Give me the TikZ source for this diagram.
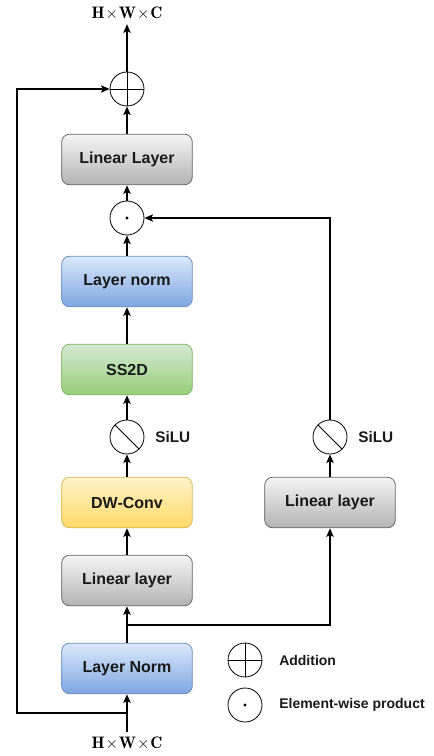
\documentclass[tikz,border=0pt]{standalone}
\usepackage{fontspec}
\setsansfont{Liberation Sans}
\usetikzlibrary{arrows.meta,positioning,calc}

\definecolor{grayTop}{HTML}{F5F5F5}
\definecolor{grayBot}{HTML}{B3B3B3}
\definecolor{grayLine}{HTML}{666666}
\definecolor{blueTop}{HTML}{DAE8FC}
\definecolor{blueBot}{HTML}{7EA6E0}
\definecolor{blueLine}{HTML}{6C8EBF}
\definecolor{greenTop}{HTML}{D5E8D4}
\definecolor{greenBot}{HTML}{97D077}
\definecolor{greenLine}{HTML}{82B366}
\definecolor{yellowTop}{HTML}{FFF2CC}
\definecolor{yellowBot}{HTML}{FFD966}
\definecolor{yellowLine}{HTML}{D6B656}

\newcommand{\hwc}{$\mathbf{H}\mkern1mu{\times}\mkern1mu\mathbf{W}\mkern1mu{\times}\mkern1mu\mathbf{C}$}

\tikzset{
  block/.style={rectangle, rounded corners=6pt, minimum width=98pt, minimum height=38pt,
    line width=0.6pt, text=black!90, font=\sffamily\bfseries\fontsize{12}{14}\selectfont},
  grayblock/.style={block, draw=grayLine, top color=grayTop, bottom color=grayBot},
  blueblock/.style={block, draw=blueLine, top color=blueTop, bottom color=blueBot},
  greenblock/.style={block, draw=greenLine, top color=greenTop, bottom color=greenBot},
  yellowblock/.style={block, draw=yellowLine, top color=yellowTop, bottom color=yellowBot},
  op/.style={circle, draw, line width=0.6pt, minimum size=25.5pt, inner sep=0pt},
  addop/.style={op, path picture={\draw[line width=0.6pt] (path picture bounding box.north) -- (path picture bounding box.south)
      (path picture bounding box.west) -- (path picture bounding box.east);}},
  prodop/.style={op, path picture={\fill (path picture bounding box.center) circle (1.2pt);}},
  siluop/.style={op, path picture={\draw[line width=0.6pt] ($(path picture bounding box.center)+(135:12.75pt)$)
      -- ($(path picture bounding box.center)+(-45:12.75pt)$);}},
  flow/.style={line width=1.3pt, -{Stealth[length=6.5pt,width=5.5pt,inset=1.5pt]}},
  oplabel/.style={font=\sffamily\bfseries\fontsize{11.5}{13}\selectfont, text=black!90, inner sep=0pt},
  legendtext/.style={font=\sffamily\bfseries\fontsize{10.5}{12}\selectfont, text=black!90, inner sep=0pt, anchor=west},
  dims/.style={font=\fontsize{12.5}{14}\selectfont}
}

\begin{document}
\begin{tikzpicture}[x=0.75pt, y=-0.75pt]
    \useasboundingbox (0,0) rectangle (433,756);

    % input / output sizes
    \node[dims] (out) at (127,13) {\hwc};
    \node[dims] (in) at (127,743) {\hwc};

    % main branch
    \node[addop] (plus) at (127,89) {};
    \node[grayblock] (linout) at (127,159.5) {Linear Layer};
    \node[prodop] (prod) at (127,218) {};
    \node[blueblock] (normtop) at (127,281.5) {Layer norm};
    \node[greenblock] (ssd) at (127,369.5) {SS2D};
    \node[siluop] (siluleft) at (127,437) {};
    \node[oplabel, right=8pt of siluleft] (siluleftlbl) {SiLU};
    \node[yellowblock] (dwconv) at (127,502.5) {DW-Conv};
    \node[grayblock] (linleft) at (127,580.5) {Linear layer};
    \node[blueblock] (normin) at (127,668.5) {Layer Norm};

    % gate branch
    \node[grayblock] (linright) at (330,502.5) {Linear layer};
    \node[siluop] (siluright) at (330,437) {};
    \node[oplabel, right=8pt of siluright] (silurightlbl) {SiLU};

    % legend
    \node[addop] (addlegend) at (245,660) {};
    \node[legendtext] (addtext) at (279,660) {Addition};
    \node[prodop] (prodlegend) at (245,705) {};
    \node[legendtext] (prodtext) at (279,705) {Element-wise product};

    % helper points
    \coordinate (split) at (127,625);
    \coordinate (skip) at (127,713);
    \coordinate (skipbot) at (17,713);
    \coordinate (skiptop) at (17,89);

    % connectors
    \draw[flow] (in) -- (normin);
    \draw[flow] (normin) -- (linleft);
    \draw[flow] (linleft) -- (dwconv);
    \draw[flow] (dwconv) -- (siluleft);
    \draw[flow] (siluleft) -- (ssd);
    \draw[flow] (ssd) -- (normtop);
    \draw[flow] (normtop) -- (prod);
    \draw[flow] (prod) -- (linout);
    \draw[flow] (linout) -- (plus);
    \draw[flow] (plus.north) -- (out);
    \draw[flow] (split) -| (linright);
    \draw[flow] (linright) -- (siluright);
    \draw[flow] (siluright) |- (prod);
    \draw[flow] (skip) -- (skipbot) -- (skiptop) -- (plus);
\end{tikzpicture}
\end{document}
